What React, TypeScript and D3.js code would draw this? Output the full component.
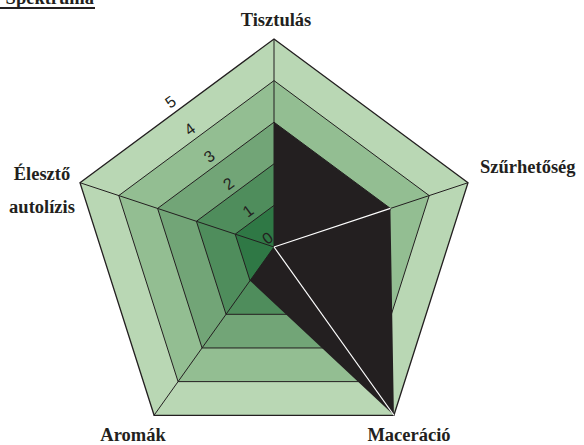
import React, { useRef, useEffect } from "react";
import * as d3 from "d3";

const axes = ["Tisztulás", "Szűrhetőség", "Maceráció", "Aromák", "Élesztő autolízis"];
const values = [3, 3, 5, 1, 0];
const levels = [0, 1, 2, 3, 4, 5];
const bandColors = ["#2f7845", "#4f8d5c", "#72a577", "#93be92", "#b9d7b4"];

const App = () => {
  const svgRef = useRef<SVGSVGElement>(null);

  useEffect(() => {
    const svg = d3.select(svgRef.current);
    svg.selectAll("*").remove();
    const width = 584;
    const height = 445;
    const cx = 274;
    const cy = 247;
    const ink = "#231f20";
    const serif = "'Liberation Serif', 'Times New Roman', serif";

    svg.attr("width", width).attr("height", height);

    // radius scales (the pentagon is slightly stretched vertically)
    const rx = d3.scaleLinear().domain([0, 5]).range([0, 204]);
    const ry = d3.scaleLinear().domain([0, 5]).range([0, 208]);
    const angle = d3
      .scaleLinear()
      .domain([0, axes.length])
      .range([0, 2 * Math.PI]);

    const pt = (i: number, v: number): [number, number] => [
      cx + rx(v) * Math.sin(angle(i)),
      cy - ry(v) * Math.cos(angle(i)),
    ];
    const ring = (v: number) => axes.map((_, i) => pt(i, v));
    const line = d3.line().curve(d3.curveLinearClosed);

    // filled bands, outer first
    const g = svg.append("g");
    levels
      .slice(1)
      .reverse()
      .forEach((lv) => {
        g.append("path")
          .attr("d", line(ring(lv)))
          .attr("fill", bandColors[lv - 1])
          .attr("stroke", ink)
          .attr("stroke-width", lv === 5 ? 1.3 : 1);
      });

    // spokes
    axes.forEach((_, i) => {
      const [x, y] = pt(i, 5);
      g.append("line")
        .attr("x1", cx)
        .attr("y1", cy)
        .attr("x2", x)
        .attr("y2", y)
        .attr("stroke", ink)
        .attr("stroke-width", 1);
    });

    // data polygon
    g.append("path")
      .attr("d", line(values.map((v, i) => pt(i, v))))
      .attr("fill", ink);

    // white spokes inside the data polygon
    values.forEach((v, i) => {
      const prev = values[(i + values.length - 1) % values.length];
      const next = values[(i + 1) % values.length];
      if (v > 0 && prev > 0 && next > 0) {
        const [x, y] = pt(i, v);
        g.append("line")
          .attr("x1", cx)
          .attr("y1", cy)
          .attr("x2", x)
          .attr("y2", y)
          .attr("stroke", "#ffffff")
          .attr("stroke-width", 1.2);
      }
    });

    // level labels along the top-left edge
    const [tx, ty] = pt(0, 5);
    const [lx, ly] = pt(4, 5);
    const ang = (Math.atan2(ty - ly, tx - lx) * 180) / Math.PI;
    const len = Math.hypot(tx - lx, ty - ly);
    const nx = (ty - ly) / len;
    const ny = -(tx - lx) / len;
    levels.forEach((lv) => {
      const [ax, ay] = pt(0, lv);
      const [bx, by] = pt(4, lv);
      const mx = (ax + bx) / 2 + nx * 11;
      const my = (ay + by) / 2 + ny * 11;
      g.append("text")
        .attr("transform", `translate(${mx},${my}) rotate(${ang})`)
        .attr("text-anchor", "middle")
        .attr("dominant-baseline", "central")
        .attr("font-family", "'Liberation Sans', Arial, sans-serif")
        .attr("font-size", 16)
        .attr("fill", ink)
        .text(lv);
    });

    // axis labels
    const labelPos = [
      { x: 276, y: 26, anchor: "middle" },
      { x: 480, y: 173, anchor: "start" },
      { x: 409, y: 441, anchor: "middle" },
      { x: 133, y: 441, anchor: "middle" },
      { x: 42, y: 180, anchor: "middle" },
    ];
    axes.forEach((name, i) => {
      const p = labelPos[i];
      const t = g
        .append("text")
        .attr("x", p.x)
        .attr("y", p.y)
        .attr("text-anchor", p.anchor)
        .attr("font-family", serif)
        .attr("font-weight", "bold")
        .attr("font-size", 18.5)
        .attr("fill", ink);
      name.split(" ").forEach((w, k) => {
        t.append("tspan")
          .attr("x", p.x)
          .attr("dy", k === 0 ? 0 : 33)
          .text(w);
      });
    });

    // clipped title at the top
    svg
      .append("text")
      .attr("x", 94)
      .attr("y", 4)
      .attr("text-anchor", "end")
      .attr("font-family", serif)
      .attr("font-weight", "bold")
      .attr("font-size", 18.5)
      .attr("fill", ink)
      .text("Spektruma");
    svg
      .append("line")
      .attr("x1", 0)
      .attr("x2", 95)
      .attr("y1", 8)
      .attr("y2", 8)
      .attr("stroke", ink)
      .attr("stroke-width", 2);
  }, []);

  return (
    <svg
      ref={svgRef}
      style={{ position: "absolute", left: 0, top: 0, background: "#fff" }}
    ></svg>
  );
};

export default App;
